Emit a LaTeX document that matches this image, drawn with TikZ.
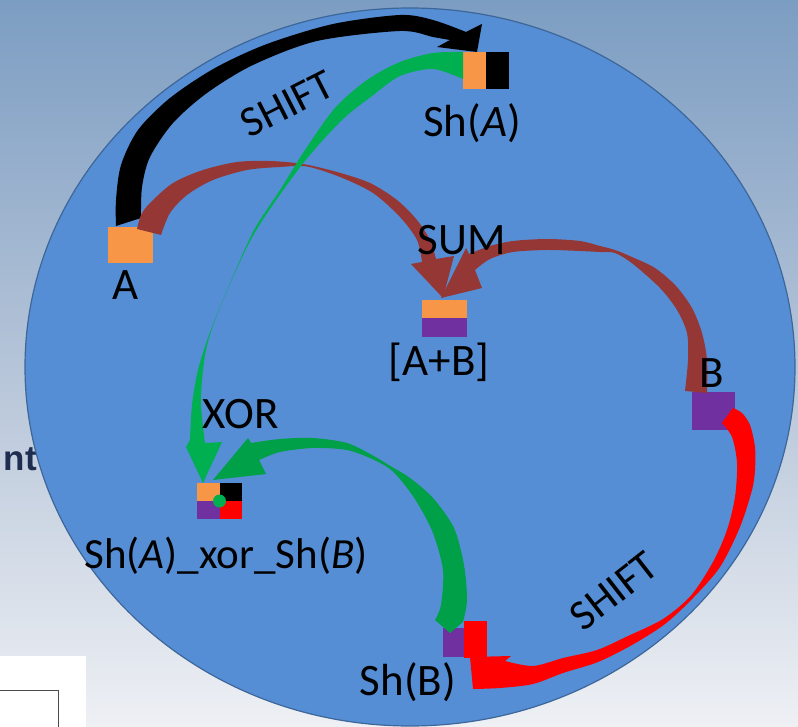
\documentclass[tikz,border=0pt]{standalone}
\usepackage{fontspec}
\setmainfont{Carlito}
\newfontfamily\headfont{Liberation Sans}
\definecolor{bgtop}{HTML}{7C9DC2}
\definecolor{bgmid}{HTML}{B5C4D8}
\definecolor{bgbot}{HTML}{EEF0F4}
\definecolor{disc}{HTML}{558ED5}
\definecolor{discline}{HTML}{3D6699}
\definecolor{orng}{HTML}{F79646}
\definecolor{purp}{HTML}{7030A0}
\definecolor{brwn}{HTML}{953735}
\definecolor{grn}{HTML}{00B050}
\definecolor{grntwo}{HTML}{00A048}
\definecolor{navy}{HTML}{1F2E50}
\tikzset{
  sq/.style={draw=none, inner sep=0pt, outer sep=0pt},
  lbl/.style={font=\fontsize{45}{50}\selectfont, inner sep=0pt, text=black},
}
\begin{document}
\begin{tikzpicture}[x=1pt,y=-1pt]
\useasboundingbox (0,0) rectangle (798,727);
% background
\shade[top color=bgtop, bottom color=bgbot, middle color=bgmid] (0,0) rectangle (798,727);
\node[font=\headfont\bfseries\fontsize{35}{40}\selectfont, text=navy, anchor=base east, inner sep=0pt] (nt) at (37,470) {nt};
\fill[white] (0,656) rectangle (86,727);
\draw[black!70, line width=1pt] (-2,690) -- (58,690) -- (58,729);
% disc
\fill[disc] (410,367) ellipse [x radius=385pt, y radius=359pt];
\draw[discline, line width=1.2pt] (410,367) ellipse [x radius=385pt, y radius=359pt];

% squares
\node[sq, fill=orng, minimum width=45pt, minimum height=36pt] (A) at (130.5,245) {};
\node[sq, minimum width=46pt, minimum height=37pt] (ShA) at (486,70.5) {};
\fill[orng] (ShA.north west) rectangle (ShA.south);
\fill[black] (ShA.north) rectangle (ShA.south east);
\node[sq, minimum width=45pt, minimum height=37pt] (AB) at (444.5,318.5) {};
\fill[orng] (AB.north west) rectangle (AB.east);
\fill[purp] (AB.west) rectangle (AB.south east);
\node[sq, fill=purp, minimum width=43pt, minimum height=38pt] (B) at (713.5,411) {};
\node[sq, minimum width=45pt, minimum height=36pt] (X) at (219.5,501) {};
\fill[orng] (X.north west) rectangle (X.center);
\fill[black] (X.north) rectangle (X.east);
\fill[purp] (X.west) rectangle (X.south);
\fill[red] (X.center) rectangle (X.south east);
\fill[grn] (X.center) circle (6.5pt);
\node[sq, fill=purp, minimum width=21pt, minimum height=29pt] (ShBp) at (453.5,642.5) {};
\node[sq, fill=red, minimum width=23pt, minimum height=37pt] (ShBr) at (475.5,639.5) {};

% tips
\coordinate (tipBlack) at (477,52);
\coordinate (tipGA) at (203,483);
\coordinate (tipGB) at (213,480);
\coordinate (tipRed) at (470,657);
\coordinate (tipBrA) at (443,298);
\coordinate (tipBrB) at (441,298);

% black SHIFT arrow A -> Sh(A)
\fill[black] plot[smooth] coordinates {(116,226) (116,200) (121,165) (138,130) (170,98) (215,68) (267,44) (333,24) (400,15) (433,20) (466,32)}
  -- (482,24) -- (tipBlack) -- (437,47)
  -- plot[smooth] coordinates {(450,40) (433,37) (400,31) (317,41) (253,65) (207,93) (173,123) (150,157) (142,187) (141,218)} -- cycle;

% brown SUM arrow A -> [A+B]
\fill[brwn] plot[smooth] coordinates {(137,229) (141,215) (150,203) (173,183) (203,170) (237,162) (270,161) (303,164) (337,172) (370,183) (397,200) (417,220) (430,240) (436,259)}
  -- (454,256) -- (tipBrA) -- (411,264)
  -- plot[smooth] coordinates {(422,262) (417,240) (400,217) (373,193) (340,177) (307,166.5) (280,167) (247,170) (213,180) (187,195) (170,213) (161,235)} -- cycle;

% brown SUM arrow B -> [A+B]
\fill[brwn] plot[smooth] coordinates {(707,393) (707,360) (702,333) (692,308) (676,286) (655,268) (632,257) (615,250) (600,246) (580,241) (547,239) (513,241) (490,246) (469,254)}
  -- (466,248) -- (tipBrB) -- (482,288)
  -- plot[smooth] coordinates {(475,270) (490,259) (513,252) (547,250) (580,251) (600,252) (615,253) (633,264) (660,288) (677,310) (687,333) (688,360) (685,391)} -- cycle;

% green arrow Sh(A) -> XOR
\fill[grn] plot[smooth] coordinates {(463,52) (433,53) (400,62) (367,80) (335,108) (305,150) (280,190) (253,232) (225,295) (209,335) (198,370) (192,405) (190,440)}
  -- (186,447) -- (tipGA) -- (222,442)
  -- plot[smooth] coordinates {(205,443) (201,400) (206,350) (221,305) (254,234) (301,166) (341,121) (372,96) (400,76) (433,69) (463,79)} -- cycle;

% green arrow Sh(B) -> XOR
\fill[grntwo] plot[smooth] coordinates {(463,622) (467,600) (464,565) (454,528) (433,498) (410,478) (392,467) (372,455) (347,443) (313,438) (280,439) (251,443)}
  -- (248,438) -- (tipGB) -- (266,474)
  -- plot[smooth] coordinates {(259,460) (280,452) (313,448) (347,450) (372,459) (390,469) (404,484) (418,504) (433,533) (443,570) (441,605) (435,620)}
  -- (450,633) -- cycle;

% red SHIFT arrow B -> Sh(B)
\fill[red] plot[smooth] coordinates {(733,408) (742,413) (750,425) (755,447) (755,470) (752,490) (740,527) (720,567) (693,598) (665,624) (632,645) (598,662) (563,673) (533,684) (500,688) (473,689)}
  -- (tipRed) -- (511,656)
  -- plot[smooth] coordinates {(505,661) (533,666) (563,658) (597,650) (628,636) (663,619) (691,595.5) (713,562) (727,530) (735,497) (737,463) (732,437) (722,423)} -- cycle;

% labels
\node[lbl, anchor=base] (lA) at (126,300) {A};
\node[lbl, anchor=base] (lShA) at (472,137) {Sh(\textit{A})};
\node[lbl, anchor=base] (lSUM) at (462,255) {SUM};
\node[lbl, anchor=base] (lAB) at (439,375) {[A+B]};
\node[lbl, anchor=base] (lB) at (712,387) {B};
\node[lbl, anchor=base] (lXOR) at (241,428) {XOR};
\node[lbl, anchor=base, font=\fontsize{43}{48}\selectfont] (lX) at (226,568) {Sh(\textit{A})\_xor\_Sh(\textit{B})};
\node[lbl, anchor=base] (lShB) at (408,695) {Sh(B)};
\node[lbl, rotate=27, font=\fontsize{43}{48}\selectfont] (lS1) at (287,104) {SHIFT};
\node[lbl, rotate=38, font=\fontsize{43}{48}\selectfont] (lS2) at (614,591) {SHIFT};
\end{tikzpicture}
\end{document}
